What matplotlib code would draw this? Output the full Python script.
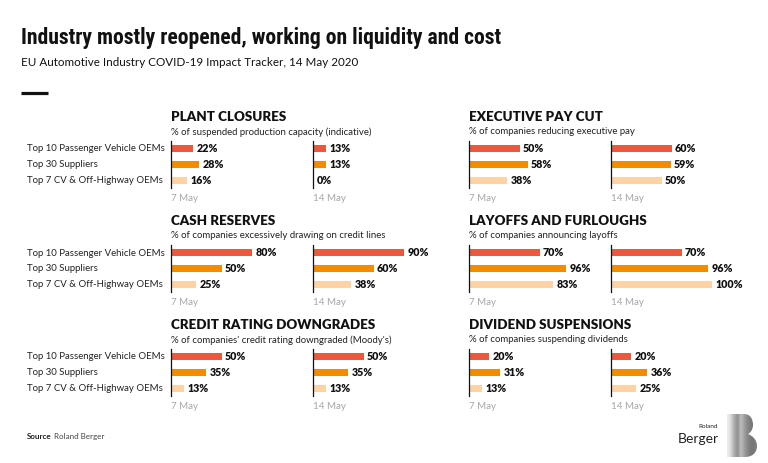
#!/usr/bin/env python3
'''
EU automotive COVID-19 impact tracker: six small paired bar panels
'''
import numpy as np
import matplotlib
matplotlib.use('Agg')
import matplotlib.pyplot as plt
from matplotlib import font_manager
from matplotlib.path import Path
from matplotlib.patches import PathPatch

categories = ['Top 10 Passenger Vehicle OEMs', 'Top 30 Suppliers', 'Top 7 CV & Off-Highway OEMs']
dates = ['7 May', '14 May']

plant_may7 = [22, 28, 16]
plant_may14 = [13, 13, 0]
exec_may7 = [50, 58, 38]
exec_may14 = [60, 59, 50]
cash_may7 = [80, 50, 25]
cash_may14 = [90, 60, 38]
layoffs_may7 = [70, 96, 83]
layoffs_may14 = [70, 96, 100]
credit_may7 = [50, 35, 13]
credit_may14 = [50, 35, 13]
dividend_may7 = [20, 31, 13]
dividend_may14 = [20, 36, 25]

panel_titles = ['PLANT CLOSURES', 'EXECUTIVE PAY CUT', 'CASH RESERVES',
                'LAYOFFS AND FURLOUGHS', 'CREDIT RATING DOWNGRADES', 'DIVIDEND SUSPENSIONS']
panel_subtitles = ['% of suspended production capacity (indicative)',
                   '% of companies reducing executive pay',
                   '% of companies excessively drawing on credit lines',
                   '% of companies announcing layoffs',
                   "% of companies' credit rating downgraded (Moody's)",
                   '% of companies suspending dividends']
panel_values = [(plant_may7, plant_may14), (exec_may7, exec_may14),
                (cash_may7, cash_may14), (layoffs_may7, layoffs_may14),
                (credit_may7, credit_may14), (dividend_may7, dividend_may14)]

bar_colors = ['#E85A40', '#F08C00', '#FDD3A6']

AVAILABLE = {f.name for f in font_manager.fontManager.ttflist}


def pick(*names):
    '''
    first installed font family from the candidates
    '''
    for name in names:
        if name in AVAILABLE:
            return name
    return 'DejaVu Sans'


BODY = pick('Lato', 'Open Sans', 'DejaVu Sans')
TITLE = pick('Roboto Condensed', 'Liberation Sans Narrow', 'Lato')
TITLE_SIZE = 12.3 if TITLE == 'Lato' else 15.6

plt.rcParams['font.family'] = [BODY, 'DejaVu Sans']

W, H = 768, 464
fig = plt.figure(figsize=(W / 100, H / 100), dpi=100)
fig.patch.set_facecolor('white')

# overlay in pixel coordinates for headings and labels
over = fig.add_axes([0, 0, 1, 1])
over.set_xlim(0, W)
over.set_ylim(H, 0)
over.set_axis_off()

over.text(21, 38, 'Industry mostly reopened, working on liquidity and cost',
          fontsize=TITLE_SIZE, fontweight='bold', family=[TITLE, 'DejaVu Sans'],
          va='center', ha='left', color='#111111')
over.text(21, 63, 'EU Automotive Industry COVID-19 Impact Tracker, 14 May 2020',
          fontsize=8.4, va='center', ha='left', color='#111111')
over.plot([21, 48], [94, 94], color='#111111', lw=2.3, solid_capstyle='butt')

row_y = [149, 253, 357]
col_x = [(171, 313), (469, 611)]
row_gap = 16
px_per_pct = 1.01
ax_w = 135

for p, (title, subtitle, values) in enumerate(zip(panel_titles, panel_subtitles, panel_values)):
    r, c = divmod(p, 2)
    y0 = row_y[r]
    x_left = col_x[c][0]
    over.text(x_left, y0 - 32, title, fontsize=9.6, fontweight='heavy',
              va='center', ha='left', color='#111111')
    over.text(x_left, y0 - 17, subtitle, fontsize=6.9,
              va='center', ha='left', color='#222222')
    if c == 0:
        for i, cat in enumerate(categories):
            over.text(27, y0 + i * row_gap, cat, fontsize=6.95,
                      va='center', ha='left', color='#222222')
    for d, (date, vals) in enumerate(zip(dates, values)):
        x0 = col_x[c][d]
        top = y0 - 7.5
        bottom = y0 + 2 * row_gap + 7.5
        ax = fig.add_axes([x0 / W, 1 - bottom / H, ax_w / W, (bottom - top) / H])
        ax.barh(range(len(vals)), vals, height=7 / row_gap, color=bar_colors)
        for i, v in enumerate(vals):
            ax.annotate(f'{v}%', (v, i), xytext=(2.4, 0), textcoords='offset points',
                        va='center', ha='left', fontsize=7.7, fontweight='heavy',
                        color='#111111')
        ax.set_xlim(0, ax_w / px_per_pct)
        ax.set_ylim(2 + 7.5 / row_gap, -7.5 / row_gap)
        for side in ['top', 'right', 'bottom']:
            ax.spines[side].set_visible(False)
        ax.spines['left'].set_color('#111111')
        ax.spines['left'].set_linewidth(0.9)
        ax.set_xticks([])
        ax.set_yticks([])
        ax.patch.set_alpha(0)
        over.text(x0, y0 + 50, date, fontsize=7.0,
                  va='center', ha='left', color='#a6a6a6')

# source line
src = over.text(27, 437, 'Source', fontsize=5.8, fontweight='bold', va='center', ha='left',
                color='#222222')
over.annotate('Roland Berger', xy=(1, 0.5), xycoords=src, xytext=(1.5, 0),
              textcoords='offset points', fontsize=5.8, va='center', ha='left',
              color='#444444')

# logo
over.text(718, 427, 'Roland', fontsize=4.6, va='center', ha='right', color='#222222')
over.text(719, 439, 'Berger', fontsize=10, va='center', ha='right', color='#222222')
verts = [(727, 415), (744, 415),
         (751, 415), (753, 421), (753, 426),
         (753, 431), (750, 434), (748, 435),
         (753, 437), (757, 441), (757, 447),
         (757, 454), (752, 458), (745, 458),
         (727, 458), (727, 415)]
codes = [Path.MOVETO, Path.LINETO,
         Path.CURVE4, Path.CURVE4, Path.CURVE4,
         Path.CURVE4, Path.CURVE4, Path.CURVE4,
         Path.CURVE4, Path.CURVE4, Path.CURVE4,
         Path.CURVE4, Path.CURVE4, Path.CURVE4,
         Path.LINETO, Path.CLOSEPOLY]
logo = PathPatch(Path(verts, codes), facecolor='none', edgecolor='none')
over.add_patch(logo)
grad = np.array([[0.93, 0.85, 0.72, 0.62, 0.55, 0.78, 0.66, 0.58, 0.52, 0.48, 0.46, 0.5]])
img = over.imshow(grad, cmap='gray', vmin=0, vmax=1, extent=(727, 757, 458, 415),
                  aspect='auto', interpolation='bicubic')
img.set_clip_path(logo)
over.set_xlim(0, W)
over.set_ylim(H, 0)

fig.savefig('out.png', dpi=100, facecolor='white')
